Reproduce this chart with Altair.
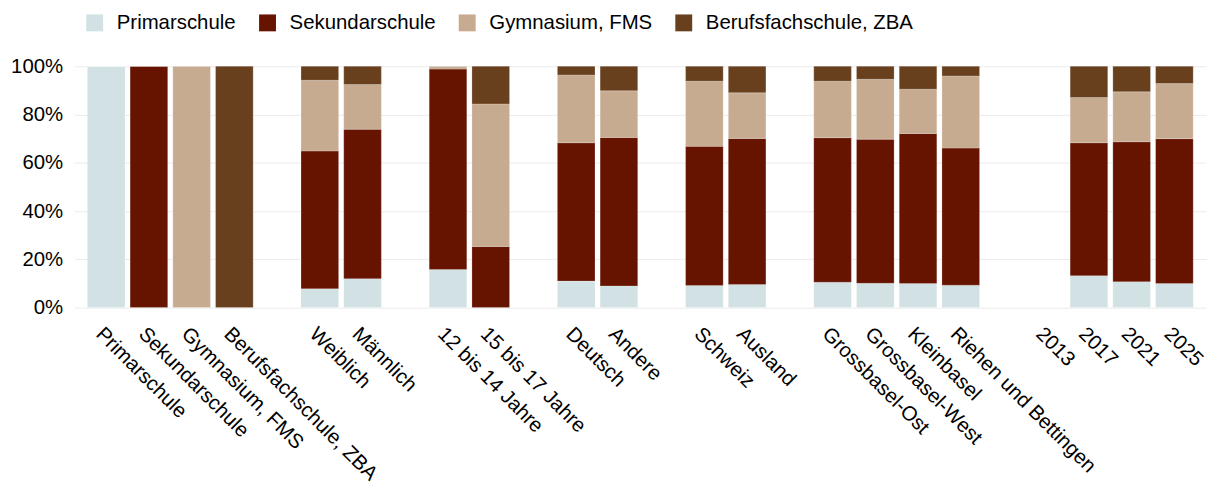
import altair as alt
import pandas as pd

categories = [
    "Primarschule", "Sekundarschule", "Gymnasium, FMS", "Berufsfachschule, ZBA", " ",
    "Weiblich", "Männlich", "  ",
    "12 bis 14 Jahre", "15 bis 17 Jahre", "   ",
    "Deutsch", "Andere", "    ",
    "Schweiz", "Ausland", "     ",
    "Grossbasel-Ost", "Grossbasel-West", "Kleinbasel", "Riehen und Bettingen", "      ",
    "2013", "2017", "2021", "2025",
]

bar_categories = [
    "Primarschule", "Sekundarschule", "Gymnasium, FMS", "Berufsfachschule, ZBA",
    "Weiblich", "Männlich",
    "12 bis 14 Jahre", "15 bis 17 Jahre",
    "Deutsch", "Andere",
    "Schweiz", "Ausland",
    "Grossbasel-Ost", "Grossbasel-West", "Kleinbasel", "Riehen und Bettingen",
    "2017", "2021", "2025",
]

primarschule     = [100, 0, 0, 0, 7.8, 12.0, 15.8, 0.0, 11.0, 9.0, 9.2, 9.6, 10.5, 10.1, 10.0, 9.3, 13.2, 10.7, 10.0]
sekundarschule   = [0, 100, 0, 0, 57.1, 61.9, 83.0, 25.3, 57.3, 61.5, 57.6, 60.5, 59.9, 59.7, 62.1, 56.8, 55.1, 58.0, 60.0]
gymnasium        = [0, 0, 100, 0, 29.3, 18.5, 1.2, 59.1, 28.1, 19.3, 27.0, 18.9, 23.4, 24.8, 18.4, 29.9, 18.7, 20.7, 22.8]
berufsfachschule = [0, 0, 0, 100, 5.8, 7.6, 0.0, 15.6, 3.6, 10.2, 6.2, 11.0, 6.2, 5.4, 9.5, 4.0, 13.0, 10.6, 7.2]

series_names = ["Primarschule", "Sekundarschule", "Gymnasium, FMS", "Berufsfachschule, ZBA"]
series_values = [primarschule, sekundarschule, gymnasium, berufsfachschule]
colors = ["#D2E1E4", "#661300", "#C6AB91", "#68401E"]

rows = []
for si, (name, vals) in enumerate(zip(series_names, series_values)):
    for cat, v in zip(bar_categories, vals):
        rows.append({"Kategorie": cat, "Schultyp": name, "Wert": v, "idx": si})
df = pd.DataFrame(rows)

FONT = "Liberation Sans, Arial, sans-serif"

chart = alt.Chart(df).mark_bar(stroke="#ffffff", strokeWidth=0.6, strokeOpacity=0.35).encode(
    x=alt.X(
        "Kategorie:N",
        scale=alt.Scale(domain=categories, paddingInner=0.12, paddingOuter=0.3),
        sort=categories,
        axis=alt.Axis(
            title=None, labelAngle=45, labelAlign="left", labelBaseline="top",
            labelFontSize=20.5, labelFont=FONT, labelColor="#000000",
            ticks=False, domain=False, labelPadding=16, labelOverlap=False, labelLimit=0,
        ),
    ),
    y=alt.Y(
        "Wert:Q",
        stack="normalize",
        scale=alt.Scale(domain=[0, 1]),
        axis=alt.Axis(
            title=None, format=".0%", values=[0, 0.2, 0.4, 0.6, 0.8, 1.0],
            labelFontSize=20.5, labelFont=FONT, labelColor="#000000",
            ticks=False, tickSize=0, domain=False, labelPadding=12,
            gridColor="#ebebeb", gridWidth=1,
        ),
    ),
    color=alt.Color(
        "Schultyp:N",
        scale=alt.Scale(domain=series_names, range=colors),
        legend=alt.Legend(
            title=None, orient="none", direction="horizontal", legendX=10, legendY=-54,
            symbolType="square", symbolSize=289, symbolStrokeWidth=0,
            labelFontSize=20.5, labelFont=FONT, labelColor="#000000",
            labelOffset=12, columnPadding=21, padding=0, labelLimit=0,
        ),
    ),
    order=alt.Order("idx:Q", sort="ascending"),
).properties(
    width=1139,
    height=243,
    padding={"left": 67, "top": 57, "right": 3, "bottom": 185},
    autosize=alt.AutoSizeParams(type="none"),
).configure_view(stroke=None)

chart.save("out.html", embed_options={"renderer": "svg", "actions": False})
